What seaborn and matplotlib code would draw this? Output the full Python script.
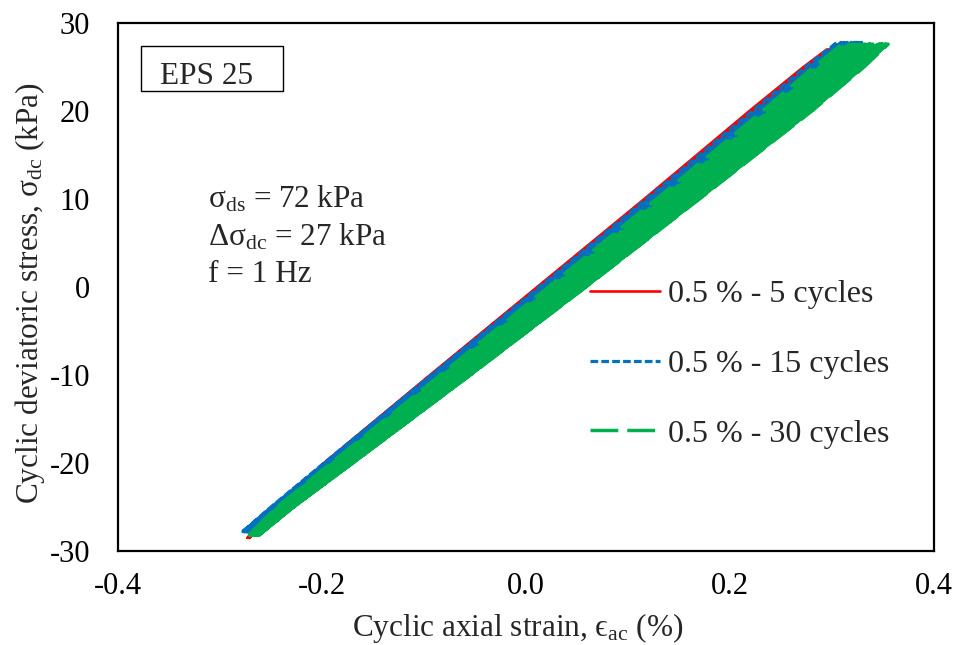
import numpy as np
import pandas as pd
import matplotlib
matplotlib.use("Agg")
import matplotlib.pyplot as plt
from matplotlib.lines import Line2D
from matplotlib.patches import Rectangle
from matplotlib.ticker import MultipleLocator
import seaborn as sns

# ---- data: first-cycle loop branches (strain % at given stress levels, kPa)
red_stress = [-28.5, -25.0, -20.0, -10.0, 0.0, 10.0, 20.0, 25.0, 27.0]
red_load = [-0.273, -0.243, -0.192, -0.087, 0.018, 0.123, 0.226, 0.278, 0.295]
red_unload = [-0.273, -0.247, -0.198, -0.094, 0.011, 0.116, 0.219, 0.272, 0.295]
red_bottoms = [-0.273, -0.2725, -0.272, -0.2715, -0.271]
red_peaks = [0.295, 0.297, 0.299, 0.300, 0.301]

blue_stress = [-27.8, -25.0, -20.0, -10.0, 0.0, 10.0, 20.0, 25.0, 27.8]
blue_load = [-0.278, -0.245, -0.191, -0.086, 0.020, 0.125, 0.229, 0.280, 0.305]
blue_unload = [-0.278, -0.250, -0.198, -0.093, 0.013, 0.118, 0.222, 0.274, 0.305]
blue_bottoms = [-0.278, -0.2775, -0.277, -0.2765, -0.276, -0.2755, -0.275, -0.2745,
                -0.274, -0.2735, -0.273, -0.2725, -0.272, -0.272, -0.2715]
blue_peaks = [0.305, 0.309, 0.312, 0.315, 0.317, 0.319, 0.321, 0.322,
              0.323, 0.324, 0.325, 0.326, 0.327, 0.328, 0.329]

green_stress = [-28.2, -25.0, -20.0, -10.0, 0.0, 10.0, 20.0, 25.0, 27.6]
green_load = [-0.272, -0.240, -0.185, -0.076, 0.031, 0.136, 0.240, 0.288, 0.310]
green_unload = [-0.272, -0.244, -0.191, -0.084, 0.022, 0.128, 0.232, 0.282, 0.310]
green_bottoms = [-0.272, -0.2715, -0.271, -0.2705, -0.270, -0.2695, -0.269, -0.2685,
                 -0.268, -0.2675, -0.267, -0.267, -0.2665, -0.266, -0.266, -0.2655,
                 -0.265, -0.265, -0.2645, -0.264, -0.264, -0.2635, -0.2635, -0.263,
                 -0.263, -0.2625, -0.2625, -0.262, -0.262, -0.262]
green_peaks = [0.310, 0.314, 0.317, 0.320, 0.323, 0.325, 0.327, 0.329, 0.331, 0.333,
               0.334, 0.336, 0.337, 0.338, 0.340, 0.341, 0.342, 0.343, 0.344, 0.345,
               0.346, 0.347, 0.348, 0.349, 0.350, 0.351, 0.352, 0.353, 0.354, 0.355]

series_labels = ["0.5 % - 5 cycles", "0.5 % - 15 cycles", "0.5 % - 30 cycles"]
x_ticks = [-0.4, -0.2, 0.0, 0.2, 0.4]
x_ticklabels = ["-0.4", "-0.2", "0.0", "0.2", "0.4"]
y_ticks = [-30, -20, -10, 0, 10, 20, 30]


def loop_path(stress, load, unload, bottoms, peaks):
    """Chain the cycles: each loop moves with its own base and peak strain."""
    s = np.asarray(stress, float)
    lo = np.asarray(load, float)
    un = np.asarray(unload, float)
    frac = (s - s[0]) / (s[-1] - s[0])
    xs, ys = [], []
    for b, p in zip(bottoms, peaks):
        shift = (b - bottoms[0]) * (1 - frac) + (p - peaks[0]) * frac
        xs.extend(lo + shift)
        ys.extend(s)
        xs.extend((un + shift)[::-1][1:])
        ys.extend(s[::-1][1:])
    return pd.DataFrame({"strain": xs, "stress": ys})


sns.set_style("white")
plt.rcParams["font.family"] = ["Liberation Serif", "DejaVu Serif"]
plt.rcParams["mathtext.fontset"] = "custom"
plt.rcParams["mathtext.rm"] = "Liberation Serif"
plt.rcParams["mathtext.it"] = "Liberation Serif:italic"
plt.rcParams["mathtext.fallback"] = "stix"
plt.rcParams["axes.unicode_minus"] = False

W, H = 954, 645
fig = plt.figure(figsize=(W / 100, H / 100), dpi=100)
ax = fig.add_axes([118 / W, 1 - 551 / H, (934 - 118) / W, (551 - 23) / H])

styles = [
    dict(color="#FF0000", lw=1.9, ls="-"),
    dict(color="#0070C0", lw=2.3, ls=(0, (2.4, 1.0))),
    dict(color="#00B050", lw=2.5, ls=(0, (8.0, 2.6))),
]
frames = [
    loop_path(red_stress, red_load, red_unload, red_bottoms, red_peaks),
    loop_path(blue_stress, blue_load, blue_unload, blue_bottoms, blue_peaks),
    loop_path(green_stress, green_load, green_unload, green_bottoms, green_peaks),
]
for z, (df, st) in enumerate(zip(frames, styles)):
    sns.lineplot(data=df, x="strain", y="stress", sort=False, estimator=None,
                 color=st["color"], linewidth=st["lw"], linestyle=st["ls"],
                 ax=ax, legend=False, zorder=2 + z)

ax.set_xlim(-0.4, 0.4)
ax.set_ylim(-30, 30)
ax.set_xticks(x_ticks)
ax.set_xticklabels(x_ticklabels)
ax.set_yticks(y_ticks)
ax.set_yticklabels([str(v) for v in y_ticks])
ax.xaxis.set_minor_locator(MultipleLocator(0.05))
ax.yaxis.set_minor_locator(MultipleLocator(5))
ax.tick_params(axis="both", which="both", direction="in", colors="black",
               labelsize=22, top=False, right=False)
ax.tick_params(axis="both", which="major", length=7, width=0.8)
ax.tick_params(axis="both", which="minor", length=4.5, width=0.8)
ax.tick_params(axis="y", which="major", pad=20)
ax.tick_params(axis="x", which="major", pad=15)
for sp in ax.spines.values():
    sp.set_visible(True)
    sp.set_color("black")
    sp.set_linewidth(1.6)

ax.set_xlabel("Cyclic axial strain, \u03f5$_{\\rm ac}$ (%)", fontsize=22.5)
ax.set_ylabel("Cyclic deviatoric stress, \u03c3$_{\\rm dc}$ (kPa)", fontsize=22.5)
ax.xaxis.label.set_va("center")
ax.yaxis.label.set_va("center")
ax.xaxis.set_label_coords(0.49, (551 - 628) / 528)
ax.yaxis.set_label_coords((30 - 118) / 816, (551 - 293) / 528)

# sample label box
fig.add_artist(Rectangle((141 / W, 1 - 91 / H), 142 / W, 45 / H,
                         transform=fig.transFigure, fill=False,
                         edgecolor="black", linewidth=1.0))
fig.text(160 / W, 1 - 84 / H, "EPS 25", fontsize=22.5, va="baseline", ha="left")

# test conditions
fig.text(208 / W, 1 - 208 / H, "\u03c3$_{\\rm ds}$ = 72 kPa", fontsize=22.5, va="baseline")
fig.text(208 / W, 1 - 245 / H, "\u0394\u03c3$_{\\rm dc}$ = 27 kPa", fontsize=22.5, va="baseline")
fig.text(208 / W, 1 - 282 / H, "f = 1 Hz", fontsize=22.5, va="baseline")

handles = [Line2D([0], [0], color=st["color"], linewidth=st["lw"], linestyle=st["ls"])
           for st in styles]
ax.legend(handles, series_labels, loc="center left",
          bbox_to_anchor=(590 / W, 1 - 364 / H), bbox_transform=fig.transFigure,
          frameon=False, fontsize=23, handlelength=2.2, handletextpad=0.25,
          labelspacing=1.27, borderpad=0, borderaxespad=0)

fig.savefig("out.png", dpi=100, facecolor="white")
